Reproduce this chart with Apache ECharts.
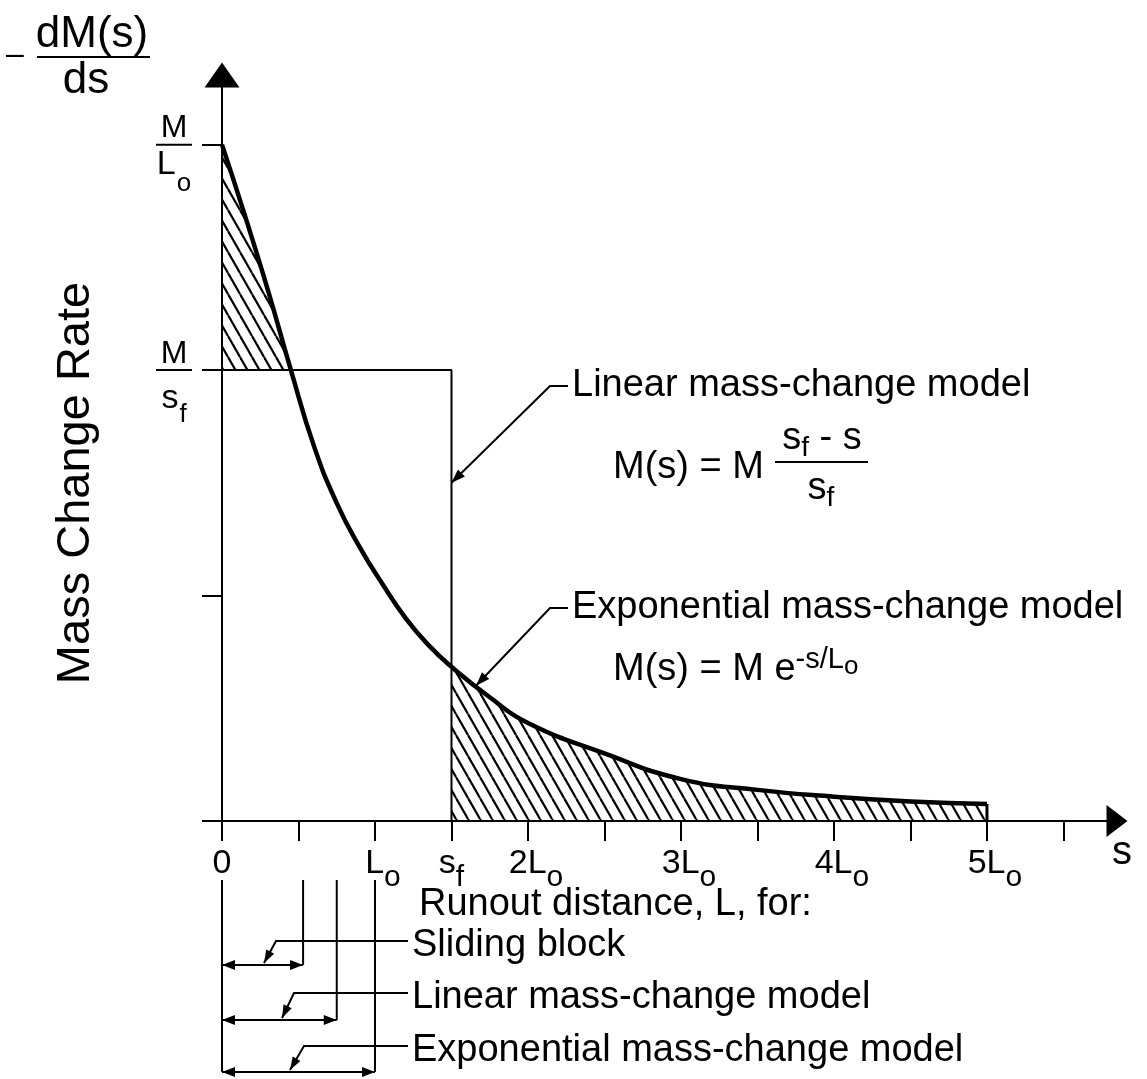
<!DOCTYPE html>
<html>
<head>
<meta charset="utf-8">
<script src="https://cdn.jsdelivr.net/npm/echarts@6/dist/echarts.min.js"></script>
<style>
html, body { margin: 0; padding: 0; background: #fff; }
#main { width: 1147px; height: 1079px; }
</style>
</head>
<body>
<div id="main"></div>
<script>
// distance s in units of Lo, rate in units of M/Lo
var distance = [0, 0.15, 0.3, 0.45, 0.6, 0.75, 0.9, 1.05, 1.2, 1.35, 1.5, 1.75, 2.0, 2.5, 3.0, 3.5, 4.0, 4.5, 5.0];
var massRate = [1.0, 0.895, 0.785, 0.667, 0.555, 0.47, 0.405, 0.35, 0.30, 0.26, 0.228, 0.183, 0.145, 0.1, 0.062, 0.046, 0.036, 0.029, 0.025];
var sf = 1.5;
var linearRate = 0.667;   // M/sf
var tailEnd = 5;

var xTicks = [0, 0.5, 1, 1.5, 2, 2.5, 3, 3.5, 4, 4.5, 5, 5.5];
var xLabelValues = [0, 1, 1.5, 2, 3, 4, 5, 5.85];
var xLabelTexts = ['{a|0}', '{b|L}{s|o}', '{a|s}{s|f}', '{b|2L}{s|o}', '{b|3L}{s|o}', '{b|4L}{s|o}', '{b|5L}{s|o}', '{v|s}'];
var yTicks = [0, 0.333, 0.667, 1];
var yLabelValues = [0.667, 1];
var yLabelTexts = ['{n|M}\n{bar| }\n{ds|s}{sf|f}', '{n|M}\n{bar| }\n{dl|L}{so|o}'];

// runout distances L (units of Lo)
var runoutNames = ['Sliding block', 'Linear mass-change model', 'Exponential mass-change model'];
var runoutLengths = [0.53, 0.75, 1.0];

// where the leader arrows point
var linearPointer = [sf, 0.5];
var expPointer = [1.66, 0.2];

var FONT = '"Liberation Sans", Arial, Helvetica, sans-serif';
var SMOOTH = 0.5;

function hatchCanvas() {
    var w = 12, h = 21;
    var c = document.createElement('canvas');
    c.width = w;
    c.height = h;
    var ctx = c.getContext('2d');
    ctx.strokeStyle = '#000';
    ctx.lineWidth = 2.2;
    [-w, 0, w].forEach(function(dx) {
        ctx.beginPath();
        ctx.moveTo(dx, 0);
        ctx.lineTo(dx + w, h);
        ctx.stroke();
    });
    return c;
}
var hatch = { image: hatchCanvas(), repeat: 'repeat' };

var curve = distance.map(function(d, i) { return [d, massRate[i]]; });
var upperPart = curve.filter(function(p) { return p[0] <= 0.45; });
var tailPart = curve.filter(function(p) { return p[0] >= sf && p[0] <= tailEnd; });

function pick(values, texts) {
    return function(v) {
        for (var i = 0; i < values.length; i++) {
            if (Math.abs(v - values[i]) < 1e-6) return texts[i];
        }
        return '';
    };
}

function rs(size, extra) {
    var o = { fontSize: size, fontFamily: FONT, color: '#000' };
    for (var k in extra) o[k] = extra[k];
    return o;
}

var chart = echarts.init(document.getElementById('main'));

chart.setOption({
    animation: false,
    backgroundColor: '#fff',
    grid: { left: 222, right: 30, top: 75, bottom: 258, outerBoundsMode: 'none' },
    xAxis: {
        type: 'value',
        min: 0,
        max: 5.85,
        splitLine: { show: false },
        axisLine: {
            onZero: false,
            lineStyle: { color: '#000', width: 2 },
            symbol: ['none', 'triangle'],
            symbolSize: [32, 21]
        },
        axisTick: { customValues: xTicks, length: 20, lineStyle: { color: '#000', width: 2 } },
        axisLabel: {
            customValues: xLabelValues,
            margin: 26,
            formatter: pick(xLabelValues, xLabelTexts),
            rich: {
                a: rs(34, { lineHeight: 34, verticalAlign: 'top' }),
                b: rs(34, { lineHeight: 34, verticalAlign: 'top', padding: [0, 0, 0, 16] }),
                s: rs(30, { lineHeight: 34, verticalAlign: 'top', padding: [16, 0, 0, 0] }),
                v: rs(40, { lineHeight: 26, verticalAlign: 'bottom', padding: [0, 0, 0, 10] })
            }
        }
    },
    yAxis: {
        type: 'value',
        min: 0,
        max: 1.103,
        splitLine: { show: false },
        name: 'Mass Change Rate',
        nameLocation: 'middle',
        nameRotate: 90,
        nameGap: 122,
        nameMoveOverlap: false,
        nameTextStyle: { fontSize: 47, fontFamily: FONT, color: '#000', padding: [0, 70, 0, 0] },
        axisLine: {
            onZero: false,
            lineStyle: { color: '#000', width: 2 },
            symbol: ['none', 'triangle'],
            symbolSize: [35, 25]
        },
        axisTick: { customValues: yTicks, length: 20, lineStyle: { color: '#000', width: 2 } },
        axisLabel: {
            customValues: yLabelValues,
            margin: 30,
            formatter: pick(yLabelValues, yLabelTexts),
            rich: {
                n: rs(32, { lineHeight: 26, align: 'center' }),
                bar: { width: 36, height: 2, lineHeight: 6, backgroundColor: '#000', fontSize: 2, align: 'center' },
                dl: rs(34, { lineHeight: 26, verticalAlign: 'top', align: 'center' }),
                so: rs(26, { lineHeight: 26, verticalAlign: 'top', align: 'center', padding: [23, 0, 0, 1] }),
                ds: rs(34, { lineHeight: 26, verticalAlign: 'top', align: 'center', padding: [9, 0, 0, 0] }),
                sf: rs(26, { lineHeight: 26, verticalAlign: 'top', align: 'center', padding: [29, 0, 0, 1] })
            }
        }
    },
    series: [{
        name: 'upper hatch',
        type: 'line',
        data: upperPart,
        smooth: SMOOTH,
        symbol: 'none',
        silent: true,
        lineStyle: { width: 0 },
        areaStyle: { color: hatch, opacity: 1, origin: linearRate },
        z: 1
    }, {
        name: 'tail hatch',
        type: 'line',
        data: tailPart,
        smooth: SMOOTH,
        symbol: 'none',
        silent: true,
        lineStyle: { width: 0 },
        areaStyle: { color: hatch, opacity: 1, origin: 0 },
        z: 1
    }, {
        name: 'Linear mass-change model',
        type: 'line',
        data: [[0, linearRate], [sf, linearRate], [sf, 0]],
        symbol: 'none',
        silent: true,
        lineStyle: { color: '#000', width: 2 },
        z: 2
    }, {
        name: 'tail edge',
        type: 'line',
        data: [[tailEnd, 0], [tailEnd, massRate[massRate.length - 1]]],
        symbol: 'none',
        silent: true,
        lineStyle: { color: '#000', width: 3 },
        z: 2
    }, {
        name: 'Exponential mass-change model',
        type: 'line',
        data: curve,
        smooth: SMOOTH,
        symbol: 'none',
        silent: true,
        lineStyle: { color: '#000', width: 4.5 },
        z: 3
    }]
});

// annotations
function px(x, y) { return chart.convertToPixel({ gridIndex: 0 }, [x, y]); }

function line(points, w) {
    return { type: 'polyline', silent: true, shape: { points: points }, style: { stroke: '#000', lineWidth: w || 2, fill: null } };
}

function arrowHead(tip, from, len, half) {
    var dx = tip[0] - from[0], dy = tip[1] - from[1];
    var d = Math.sqrt(dx * dx + dy * dy);
    var ux = dx / d, uy = dy / d;
    var bx = tip[0] - ux * len, by = tip[1] - uy * len;
    return {
        type: 'polygon',
        silent: true,
        shape: { points: [tip, [bx - uy * half, by + ux * half], [bx + uy * half, by - ux * half]] },
        style: { fill: '#000' }
    };
}

function text(x, y, str, size, align, rich) {
    return {
        type: 'text',
        silent: true,
        x: x,
        y: y,
        style: {
            text: str,
            fontSize: size,
            fontFamily: FONT,
            fill: '#000',
            align: align || 'left',
            verticalAlign: 'middle',
            rich: rich
        }
    };
}

var subRich = {
    a: { fontSize: 38, fontFamily: FONT, fill: '#000', lineHeight: 40, verticalAlign: 'top' },
    s: { fontSize: 28, fontFamily: FONT, fill: '#000', lineHeight: 40, verticalAlign: 'top', padding: [14, 0, 0, 0] }
};
var supRich = {
    a: { fontSize: 38, fontFamily: FONT, fill: '#000', lineHeight: 44, verticalAlign: 'bottom' },
    sup: { fontSize: 29, fontFamily: FONT, fill: '#000', lineHeight: 44, verticalAlign: 'top' },
    ss: { fontSize: 26, fontFamily: FONT, fill: '#000', lineHeight: 44, verticalAlign: 'top', padding: [9, 0, 0, 0] }
};

var g = [];

// top-left  - dM(s)/ds
g.push(text(92, 35, 'dM(s)', 44, 'center'));
g.push({ type: 'rect', silent: true, shape: { x: 37, y: 56, width: 113, height: 2 }, style: { fill: '#000' } });
g.push(text(86, 81, 'ds', 44, 'center'));
g.push(text(6, 55, '–', 32, 'left'));

// linear model label + pointer
var lt = px(linearPointer[0], linearPointer[1]);
g.push(line([[568, 386], [550, 386], lt], 2));
g.push(arrowHead(lt, [550, 386], 14, 5));
g.push(text(572, 386, 'Linear mass-change model', 38));
g.push(text(613, 468, 'M(s) = M', 38));
g.push(text(822, 440, '{a|s}{s|f}{a| - s}', 38, 'center', subRich));
g.push({ type: 'rect', silent: true, shape: { x: 775, y: 461, width: 93, height: 2 }, style: { fill: '#000' } });
g.push(text(821, 490, '{a|s}{s|f}', 38, 'center', subRich));

// exponential model label + pointer
var et = px(expPointer[0], expPointer[1]);
g.push(line([[568, 608], [550, 608], et], 2));
g.push(arrowHead(et, [550, 608], 14, 5));
g.push(text(572, 608, 'Exponential mass-change model', 38));
g.push(text(613, 667, '{a|M(s) = M e}{sup|-s/L}{ss|o}', 38, 'left', supRich));

// runout distance brackets
var x0 = px(0, 0)[0];
var topY = 880;
var arrowRows = [965, 1020, 1072];
var leaderRows = [941, 993, 1046];
var cornerDx = [54, 72, 82];
var tipDx = [42, 60, 68];
g.push(text(419, 905, 'Runout distance, L, for:', 38));
g.push(line([[x0, topY], [x0, arrowRows[2]]], 2));
runoutLengths.forEach(function(len, i) {
    var xe = px(len, 0)[0];
    var ay = arrowRows[i];
    g.push(line([[xe, topY], [xe, ay]], 2));
    g.push(line([[x0, ay], [xe, ay]], 2));
    g.push(arrowHead([x0, ay], [xe, ay], 13, 5));
    g.push(arrowHead([xe, ay], [x0, ay], 13, 5));
    var tip = [x0 + tipDx[i], ay - 2];
    var corner = [x0 + cornerDx[i], leaderRows[i]];
    g.push(line([[408, leaderRows[i]], corner, tip], 2));
    g.push(arrowHead(tip, corner, 13, 4.5));
    g.push(text(412, leaderRows[i] + 5, runoutNames[i], 38));
});

chart.setOption({ graphic: g });
</script>
</body>
</html>
